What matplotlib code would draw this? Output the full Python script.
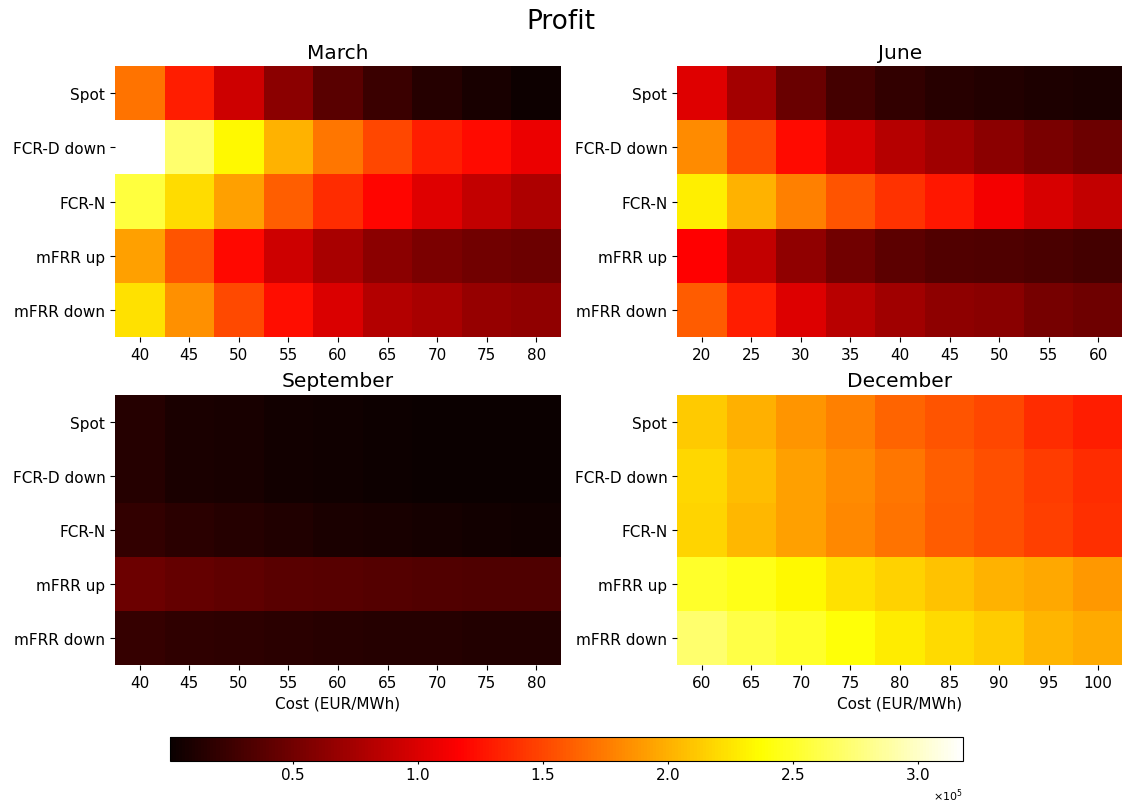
import numpy as np
import matplotlib
matplotlib.use("Agg")
import matplotlib.pyplot as plt
from matplotlib.colors import Normalize
from matplotlib.ticker import ScalarFormatter

markets = ["Spot", "FCR-D down", "FCR-N", "mFRR up", "mFRR down"]

cost_march = [40, 45, 50, 55, 60, 65, 70, 75, 80]
cost_june = [20, 25, 30, 35, 40, 45, 50, 55, 60]
cost_sept = [40, 45, 50, 55, 60, 65, 70, 75, 80]
cost_dec = [60, 65, 70, 75, 80, 85, 90, 95, 100]

# profit in EUR, rows follow `markets`
profit_march = [
    [171000, 131000, 93000, 62000, 38600, 24400, 14000, 7800, 3100],
    [318000, 272000, 235000, 201000, 173000, 150000, 131000, 121500, 108600],
    [256600, 221000, 192500, 161700, 138000, 119000, 102500, 88000, 78800],
    [192500, 157000, 120500, 93000, 76500, 62000, 55000, 50400, 48000],
    [223000, 185500, 152000, 122500, 99000, 81000, 75500, 67000, 64600],
]
profit_june = [
    [102500, 74000, 45700, 29000, 20600, 15000, 12700, 10400, 9400],
    [183000, 152000, 121500, 97800, 82600, 72600, 62000, 53700, 48000],
    [230000, 201000, 177000, 157000, 140500, 128500, 112000, 97800, 88000],
    [116700, 88000, 64600, 50400, 39500, 34800, 33800, 31500, 29000],
    [159500, 131000, 101000, 83600, 71600, 63300, 61300, 52700, 49000],
]
profit_sept = [
    [14000, 9400, 7800, 5400, 4500, 3100, 2100, 1700, 1500],
    [13500, 9000, 7500, 5200, 4200, 2800, 2000, 1500, 1000],
    [20600, 15900, 14000, 11100, 9400, 7800, 6500, 5400, 4500],
    [47000, 43300, 41000, 38600, 37000, 36300, 35300, 33800, 33500],
    [22000, 18600, 17200, 15900, 15000, 14000, 13500, 13200, 12700],
]
profit_dec = [
    [211600, 199500, 187700, 177000, 164000, 157000, 150000, 138000, 131000],
    [218600, 205800, 192500, 183000, 172500, 161700, 154500, 145000, 138000],
    [217000, 204000, 192500, 180700, 171000, 160000, 154500, 146000, 139500],
    [250000, 243800, 235000, 223000, 216000, 209000, 201000, 196000, 188700],
    [272000, 259700, 250000, 239000, 228000, 220000, 213800, 202000, 197000],
]

months = ["March", "June", "September", "December"]
costs = [cost_march, cost_june, cost_sept, cost_dec]
profits = [profit_march, profit_june, profit_sept, profit_dec]

all_vals = np.concatenate([np.ravel(p) for p in profits])
norm = Normalize(vmin=all_vals.min(), vmax=all_vals.max())

fig = plt.figure(figsize=(11.22, 8.03), dpi=100)
positions = [
    [0.1025, 0.579, 0.3975, 0.3375],
    [0.6034, 0.579, 0.3975, 0.3375],
    [0.1025, 0.1706, 0.3975, 0.3365],
    [0.6034, 0.1706, 0.3975, 0.3365],
]

for i, (month, cost, prof) in enumerate(zip(months, costs, profits)):
    ax = fig.add_axes(positions[i])
    data = np.array(prof, dtype=float)
    mesh = ax.pcolormesh(data, cmap="hot", norm=norm)
    ax.set_xlim(0, data.shape[1])
    ax.set_ylim(data.shape[0], 0)
    ax.set_xticks(np.arange(len(cost)) + 0.5)
    ax.set_xticklabels([str(c) for c in cost], fontsize=11)
    ax.set_yticks(np.arange(len(markets)) + 0.5)
    ax.set_yticklabels(markets, fontsize=11)
    for s in ax.spines.values():
        s.set_visible(False)
    ax.set_title(month, fontsize=14.5)
    if i >= 2:
        ax.set_xlabel("Cost (EUR/MWh)", fontsize=11)

fig.suptitle("Profit", fontsize=19, y=0.989)

cax = fig.add_axes([0.1515, 0.0515, 0.7068, 0.0299])
cb = fig.colorbar(mesh, cax=cax, orientation="horizontal")
fmt = ScalarFormatter(useMathText=True)
fmt.set_powerlimits((0, 0))
cb.formatter = fmt
cb.set_ticks([50000, 100000, 150000, 200000, 250000, 300000])
cb.ax.tick_params(labelsize=11, length=2.5, pad=1.5)
cb.ax.xaxis.get_offset_text().set_fontsize(8)
cb.update_ticks()

fig.savefig("out.png", dpi=100)
